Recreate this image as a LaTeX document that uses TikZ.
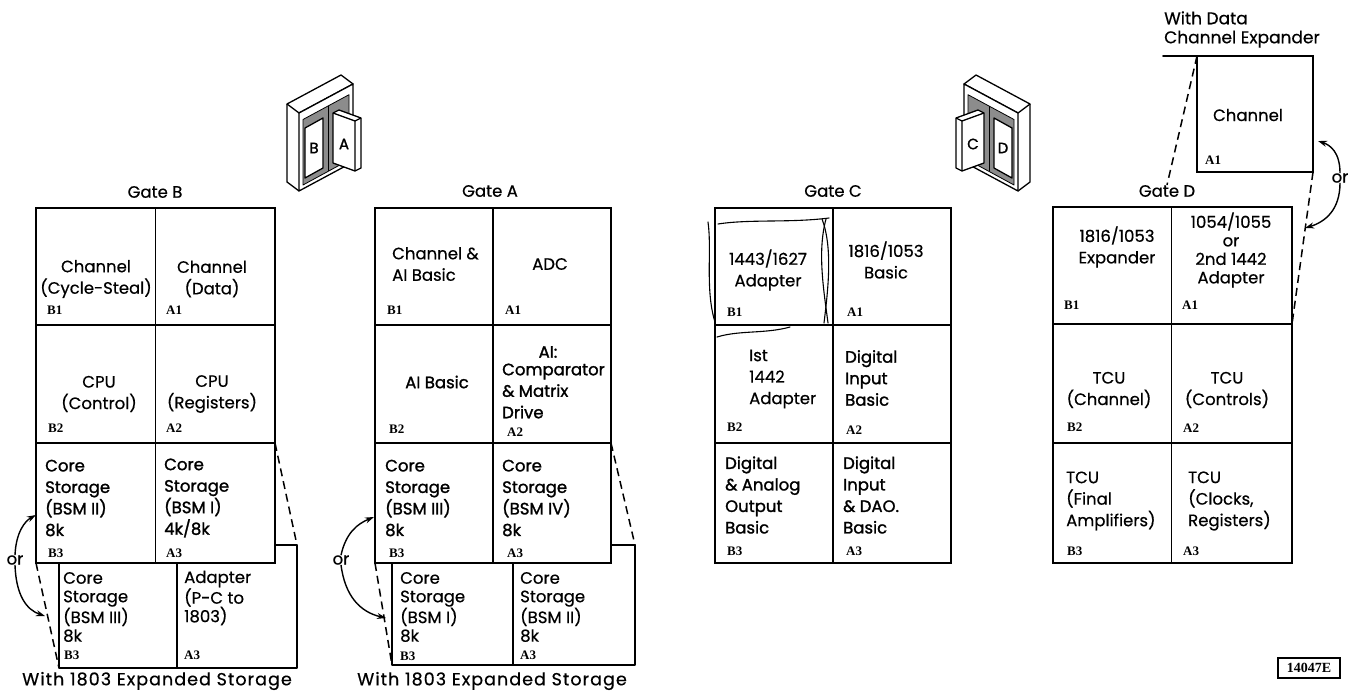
\documentclass[tikz,border=0pt]{standalone}
\usepackage{fontspec}
\setmainfont{Poppins}[FakeBold=0.5]
\newfontfamily\heavy{Poppins}[FakeBold=1.4]
\newfontfamily\labfont{Liberation Serif}
\usetikzlibrary{arrows.meta,fit}

% one cell of a gate layout, given by two opposite corners
\newcommand\cellnode[5]{\node[cellbox, fit={(#2,#3) (#4,#5)}] (#1) {};}
% six-cell gate grid: prefix, column edges, row edges
\newcommand\gategrid[8]{%
  \cellnode{#1B1}{#2}{#5}{#3}{#6}\cellnode{#1A1}{#3}{#5}{#4}{#6}%
  \cellnode{#1B2}{#2}{#6}{#3}{#7}\cellnode{#1A2}{#3}{#6}{#4}{#7}%
  \cellnode{#1B3}{#2}{#7}{#3}{#8}\cellnode{#1A3}{#3}{#7}{#4}{#8}}
% frame cabinet with one board in its bay and one board swung out
\newcommand\cabinet[3]{%
  \draw[ic] (287,104) -- (341,75) -- (353,84) -- (299,113) -- cycle;
  \draw[ic] (287,104) -- (287,182) -- (299,191);
  \draw[ic, fill=white] (299,113) -- (353,84) -- (353,162) -- (299,191) -- cycle;
  \draw[ic, line width=0.8pt, fill=black!45] (303,119.5) -- (349,94.7) -- (349,160) -- (303,185) -- cycle;
  \draw[ic, line width=0.8pt] (328,106) -- (328,171);
  \draw[ic, fill=white] (305,128) -- (323,118) -- (323,168) -- (305,178) -- cycle;
  \node[iclet] (#1bay) at (314,148) {#2};
  \draw[ic, fill=white] (333,113) -- (339,110) -- (361,118) -- (361,168) -- (355,171) -- (333,163) -- cycle;
  \draw[ic] (333,113) -- (355,121) -- (355,171) (355,121) -- (361,118);
  \node[iclet] (#1door) at (344,144) {#3};
}

\begin{document}
\begin{tikzpicture}[x=1pt,y=-1pt,
  ln/.style={line width=1.8pt, line cap=round, line join=round},
  cellbox/.style={draw, line width=1.8pt, inner sep=0pt, outer sep=0pt},
  dashln/.style={line width=1.5pt, dash pattern=on 8pt off 5pt},
  ic/.style={line width=1.3pt, line join=round},
  iclet/.style={font=\heavy\fontsize{15}{15}\selectfont, inner sep=0pt},
  txt/.style={font=\fontsize{16.5}{21.5}\selectfont, inner sep=0pt},
  ctxt/.style={txt, align=center},
  ctxts/.style={font=\fontsize{16.5}{18.5}\selectfont, inner sep=0pt, align=center},
  ltxt/.style={txt, align=left, anchor=west},
  htxt/.style={ltxt, font=\heavy\fontsize{16.5}{21.5}\selectfont},
  xtxt/.style={font=\fontsize{16.5}{18.5}\selectfont, inner sep=0pt, align=left, anchor=west},
  captxt/.style={font=\fontsize{17.5}{20}\selectfont\addfontfeature{LetterSpace=6}, inner sep=0pt},
  lab/.style={font=\labfont\bfseries\fontsize{13}{13}\selectfont, inner sep=0pt, anchor=west},
  orarr/.style={line width=1.4pt, -{Stealth[length=9pt,width=6pt]}},
  sketch/.style={line width=1.1pt, line cap=round},
]
\useasboundingbox (0,0) rectangle (1351,696);

% ---------- cabinet sketches ----------
\cabinet{ba}{B}{A}
\begin{scope}[xshift=1317pt, xscale=-1]
  \cabinet{cd}{D}{C}
\end{scope}

% ---------- gate grids ----------
\gategrid{b}{36}{155.5}{275}{208}{325}{443}{563}
\gategrid{a}{375}{493}{611}{208}{325}{443}{563}
\gategrid{c}{715}{833}{951}{208}{325}{443}{563}
\gategrid{d}{1053}{1171.5}{1292}{207}{324}{443}{563}

% ---------- gate titles ----------
\node[txt] (gBt) at (155,192) {Gate B};
\node[txt] (gAt) at (490,191) {Gate A};
\node[txt] (gCt) at (833,191) {Gate C};
\node[txt] (gDt) at (1167,191) {Gate D};

% ---------- Gate B ----------
\node[ctxt] (bB1t) at (96,279) {Channel\\(Cycle-Steal)};
\node[ctxt] (bA1t) at (212,279) {Channel\\(Data)};
\node[ctxt] (bB2t) at (99,394) {CPU\\(Control)};
\node[ctxt] (bA2t) at (212,394) {CPU\\(Registers)};
\node[htxt] (bB3t) at (45,498) {Core\\Storage\\(BSM II)\\8k};
\node[htxt] (bA3t) at (164,498) {Core\\Storage\\(BSM I)\\4k/8k};
\node[lab] (bB1l) at (47,310) {B1};
\node[lab] (bA1l) at (166,310) {A1};
\node[lab] (bB2l) at (48,428) {B2};
\node[lab] (bA2l) at (166,428) {A2};
\node[lab] (bB3l) at (48,553) {B3};
\node[lab] (bA3l) at (166,553) {A3};

% expansion board behind gate B
\coordinate (xb-step) at (275,545);
\coordinate (xb-tr) at (297,545);
\coordinate (xb-br) at (297,668);
\coordinate (xb-bl) at (59,668);
\coordinate (xb-tl) at (59,563);
\coordinate (xb-mt) at (177,563);
\coordinate (xb-mb) at (177,668);
\draw[ln] (xb-step) -- (xb-tr) -- (xb-br) -- (xb-bl) -- (xb-tl);
\draw[ln] (xb-mt) -- (xb-mb);
\node[xtxt] (xbB3t) at (63,607) {Core\\Storage\\(BSM III)\\8k};
\node[xtxt] (xbA3t) at (184,598) {Adapter\\(P-C to\\1803)};
\node[lab] (xbB3l) at (64,655) {B3};
\node[lab] (xbA3l) at (184,655) {A3};
\draw[dashln] (bA3.north east) -- (xb-tr);
\draw[dashln] (bB3.south west) -- (xb-bl);
\node[txt] (orB) at (15,560) {or};
\draw[orarr] (orB.north) .. controls (16,532) and (25,521) .. (bB3.west |- 0,515);
\draw[orarr] (orB.south) .. controls (16,596) and (27,610) .. (45,616);
\node[captxt] (xbcap) at (157,681) {With 1803 Expanded Storage};

% ---------- Gate A ----------
\node[ltxt] (aB1t) at (392,264) {Channel \&\\AI Basic};
\node[ctxt] (aA1t) at (550,264) {ADC};
\node[ctxt, font=\heavy\fontsize{16.5}{21.5}\selectfont] (aB2t) at (437,382) {AI Basic};
\node[ctxt, font=\heavy\fontsize{16.5}{21.5}\selectfont] (aA2h) at (548,352) {AI:};
\node[htxt] (aA2t) at (502,391) {Comparator\\\& Matrix\\Drive};
\node[htxt] (aB3t) at (385,498) {Core\\Storage\\(BSM III)\\8k};
\node[htxt] (aA3t) at (502,498) {Core\\Storage\\(BSM IV)\\8k};
\node[lab] (aB1l) at (387,310) {B1};
\node[lab] (aA1l) at (505,310) {A1};
\node[lab] (aB2l) at (389,429) {B2};
\node[lab] (aA2l) at (507,432) {A2};
\node[lab] (aB3l) at (389,553) {B3};
\node[lab] (aA3l) at (507,553) {A3};

% expansion board behind gate A
\coordinate (xa-step) at (611,545);
\coordinate (xa-tr) at (635,545);
\coordinate (xa-br) at (635,665);
\coordinate (xa-bl) at (392,665);
\coordinate (xa-tl) at (392,563);
\coordinate (xa-mt) at (513,563);
\coordinate (xa-mb) at (513,665);
\draw[ln] (xa-step) -- (xa-tr) -- (xa-br) -- (xa-bl) -- (xa-tl);
\draw[ln] (xa-mt) -- (xa-mb);
\node[xtxt] (xaB3t) at (400,607) {Core\\Storage\\(BSM I)\\8k};
\node[xtxt] (xaA3t) at (520,607) {Core\\Storage\\(BSM II)\\8k};
\node[lab] (xaB3l) at (400,656) {B3};
\node[lab] (xaA3l) at (520,655) {A3};
\draw[dashln] (aA3.north east) -- (xa-tr);
\draw[dashln] (aB3.south west) -- (xa-bl);
\node[txt] (orA) at (341,560) {or};
\draw[orarr] (orA.north) .. controls (346,533) and (357,524) .. (374,517);
\draw[orarr] (orA.south) .. controls (345,596) and (360,612) .. (386,618);
\node[captxt] (xacap) at (492,681) {With 1803 Expanded Storage};

% ---------- Gate C ----------
\node[ctxt] (cB1t) at (768,270) {1443/1627\\Adapter};
\node[ctxt] (cA1t) at (886,260) {1816/1053\\Basic};
\node[ltxt] (cB2t) at (749,379) {Ist\\1442\\Adapter};
\node[htxt] (cA2t) at (845,378) {Digital\\Input\\Basic};
\node[htxt] (cB3t) at (725,495) {Digital\\\& Analog\\Output\\Basic};
\node[htxt] (cA3t) at (843,495) {Digital\\Input\\\& DAO.\\Basic};
\node[lab] (cB1l) at (727,312) {B1};
\node[lab] (cA1l) at (847,312) {A1};
\node[lab] (cB2l) at (727,427) {B2};
\node[lab] (cA2l) at (846,430) {A2};
\node[lab] (cB3l) at (727,551) {B3};
\node[lab] (cA3l) at (846,551) {A3};
% hand-drawn outline round the 1443/1627 board
\draw[sketch] (708,222) .. controls (712,250) and (705,290) .. (715,322);
\draw[sketch] (718,224) .. controls (750,219) and (790,223) .. (829,218);
\draw[sketch] (822,219) .. controls (833,248) and (828,290) .. (824,323);
\draw[sketch] (826,219) .. controls (817,252) and (824,292) .. (828,323);
\draw[sketch] (717,337) .. controls (740,330) and (765,334) .. (790,327);

% ---------- Gate D ----------
\node[ctxt] (dB1t) at (1117,247) {1816/1053\\Expander};
\node[ctxts] (dA1t) at (1231,250) {1054/1055\\or\\2nd 1442\\Adapter};
\node[ctxt] (dB2t) at (1109,390) {TCU\\(Channel)};
\node[ctxt] (dA2t) at (1227,390) {TCU\\(Controls)};
\node[ltxt] (dB3t) at (1066,501) {TCU\\(Final\\Amplifiers)};
\node[ltxt] (dA3t) at (1188,501) {TCU\\(Clocks,\\Registers)};
\node[lab] (dB1l) at (1064,305) {B1};
\node[lab] (dA1l) at (1182,305) {A1};
\node[lab] (dB2l) at (1067,427) {B2};
\node[lab] (dA2l) at (1183,428) {A2};
\node[lab] (dB3l) at (1067,551) {B3};
\node[lab] (dA3l) at (1183,551) {A3};

% data channel expander board
\node[cellbox, fit={(1197,56) (1313,172)}] (chx) {};
\coordinate (chx-ext) at (1163,56);
\draw[ln] (chx-ext) -- (chx.north west);
\node[ctxt] (chxt) at (1248,115) {Channel};
\node[lab] (chxl) at (1205,160) {A1};
\node[ltxt, font=\fontsize{17}{19}\selectfont] (chxcap) at (1164,29.5) {With Data\\Channel Expander};
\draw[dashln] (chx.north west) -- (gDt.north);
\draw[dashln] (chx.south east) -- (dA1.south east);
\node[txt] (orD) at (1340,178) {or};
\draw[orarr] (orD.north) .. controls (1340,152) and (1330,145) .. (1318,141);
\draw[orarr] (orD.south) .. controls (1340,210) and (1325,222) .. (1305,228);

% ---------- figure number ----------
\node[draw, line width=1.1pt, font=\labfont\bfseries\fontsize{14}{14}\selectfont,
      minimum width=62pt, minimum height=20pt, inner sep=0pt] (fignum) at (1309,668) {14047E};
\end{tikzpicture}
\end{document}
